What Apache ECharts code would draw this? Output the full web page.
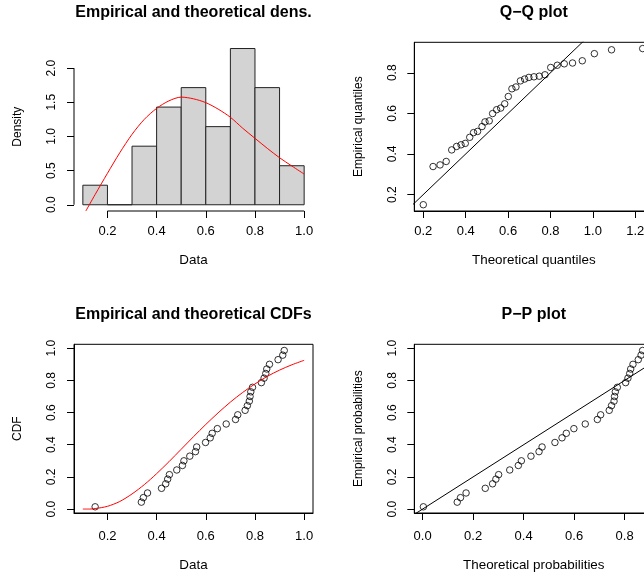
<!DOCTYPE html>
<html>
<head>
<meta charset="utf-8">
<script src="https://cdn.jsdelivr.net/npm/echarts@6/dist/echarts.min.js"></script>
<style>
html,body{margin:0;padding:0;background:#ffffff;}
#chart{width:644px;height:575px;}
</style>
</head>
<body>
<div id="chart"></div>
<script>
// ---------------- data ----------------
const sortedData = [0.150, 0.338, 0.346, 0.363, 0.420, 0.437, 0.445, 0.452, 0.482, 0.505,
  0.511, 0.535, 0.558, 0.563, 0.599, 0.618, 0.626, 0.647, 0.683, 0.721,
  0.730, 0.760, 0.769, 0.777, 0.780, 0.783, 0.790, 0.826, 0.837, 0.844,
  0.848, 0.859, 0.894, 0.913, 0.919];
const empiricalProbs = [0.014, 0.043, 0.071, 0.100, 0.129, 0.157, 0.186, 0.214, 0.243, 0.271,
  0.300, 0.329, 0.357, 0.386, 0.414, 0.443, 0.471, 0.500, 0.529, 0.557,
  0.586, 0.614, 0.643, 0.671, 0.700, 0.729, 0.757, 0.786, 0.814, 0.843,
  0.871, 0.900, 0.929, 0.957, 0.986];
const qqTheoretical = [0.200, 0.246, 0.279, 0.308, 0.334, 0.357, 0.378, 0.398, 0.419, 0.437,
  0.456, 0.477, 0.491, 0.511, 0.527, 0.546, 0.565, 0.584, 0.601, 0.618,
  0.637, 0.658, 0.678, 0.698, 0.722, 0.747, 0.774, 0.801, 0.832, 0.865,
  0.904, 0.950, 1.007, 1.088, 1.235];
const ppTheoretical = [0.003, 0.137, 0.150, 0.172, 0.248, 0.277, 0.290, 0.301, 0.345, 0.379,
  0.391, 0.429, 0.461, 0.473, 0.524, 0.552, 0.569, 0.599, 0.644, 0.692,
  0.705, 0.739, 0.748, 0.758, 0.760, 0.763, 0.771, 0.804, 0.813, 0.820,
  0.824, 0.833, 0.854, 0.865, 0.871];

const histBreaks = [0.1, 0.2, 0.3, 0.4, 0.5, 0.6, 0.7, 0.8, 0.9, 1.0];
const histDensity = [0.286, 0, 0.857, 1.429, 1.714, 1.143, 2.286, 1.714, 0.571];

const densCurveX = [0.112, 0.15, 0.2, 0.25, 0.3, 0.35, 0.4, 0.45, 0.5,
  0.55, 0.6, 0.65, 0.7, 0.75, 0.8, 0.85, 0.9, 0.95, 1.0];
const densCurveY = [-0.092, 0.15, 0.46, 0.76, 1.03, 1.25, 1.41, 1.52, 1.575,
  1.55, 1.494, 1.40, 1.28, 1.12, 0.972, 0.826, 0.688, 0.567, 0.449];

const cdfCurveX = [0.1, 0.127, 0.15, 0.2, 0.25, 0.3, 0.35, 0.4, 0.45, 0.5,
  0.55, 0.6, 0.65, 0.7, 0.75, 0.8, 0.85, 0.9, 0.95, 1.0];
const cdfCurveY = [0, 0, 0.003, 0.017, 0.047, 0.094, 0.152, 0.22, 0.294, 0.372,
  0.45, 0.526, 0.598, 0.665, 0.725, 0.778, 0.825, 0.864, 0.897, 0.925];

const histXTicks = [0.2, 0.4, 0.6, 0.8, 1.0];
const histYTicks = [0, 0.5, 1.0, 1.5, 2.0];
const qqXTicks = [0.2, 0.4, 0.6, 0.8, 1.0, 1.2];
const qqYTicks = [0.2, 0.4, 0.6, 0.8];
const cdfXTicks = [0.2, 0.4, 0.6, 0.8, 1.0];
const cdfYTicks = [0, 0.2, 0.4, 0.6, 0.8, 1.0];
const ppXTicks = [0, 0.2, 0.4, 0.6, 0.8];
const ppYTicks = [0, 0.2, 0.4, 0.6, 0.8, 1.0];

const titles = ['Empirical and theoretical dens.', 'Q\u2212Q plot', 'Empirical and theoretical CDFs', 'P\u2212P plot'];

// ---------------- layout ----------------
const FONT = 'Liberation Sans, Arial, Helvetica, sans-serif';
const ranges = {
  hist: {x: [0.064, 1.036], y: [-0.0914, 2.377]},
  qq:   {x: [0.1575, 1.285], y: [0.119, 0.950]},
  cdf:  {x: [0.064, 1.036], y: [-0.0245, 1.0245]},
  pp:   {x: [-0.033, 0.9135], y: [-0.0245, 1.0245]}
};
const grids = [
  {left: 74, top: 42.3, width: 239, height: 168.7},
  {left: 414.3, top: 42.3, width: 239, height: 168.7},
  {left: 74, top: 344.3, width: 239, height: 168.7},
  {left: 414.3, top: 344.3, width: 239, height: 168.7}
];
const boxed = [false, true, true, true];

function fmt(v) { return Number(v).toFixed(1); }

function xAxis(gi, r, ticks, name, showLine, lblMargin, nameGap) {
  return {
    type: 'value', gridIndex: gi, min: r[0], max: r[1],
    name: name, nameLocation: 'middle', nameGap: nameGap,
    nameTextStyle: {fontSize: 13.4, color: '#000', fontFamily: FONT},
    axisLine: {show: showLine, onZero: false, lineStyle: {color: '#000', width: 1}},
    axisTick: {show: true, inside: false, length: 7, customValues: ticks, lineStyle: {color: '#000', width: 1}},
    axisLabel: {show: true, customValues: ticks, formatter: fmt, margin: lblMargin, fontSize: 13, color: '#000', fontFamily: FONT},
    splitLine: {show: false}
  };
}
function yAxis(gi, r, ticks, name, showLine) {
  return {
    type: 'value', gridIndex: gi, min: r[0], max: r[1],
    name: name, nameLocation: 'middle', nameGap: 50, nameRotate: 90,
    nameTextStyle: {fontSize: 12, color: '#000', fontFamily: FONT},
    axisLine: {show: showLine, onZero: false, lineStyle: {color: '#000', width: 1}},
    axisTick: {show: true, inside: false, length: 7, customValues: ticks, lineStyle: {color: '#000', width: 1}},
    axisLabel: {show: true, customValues: ticks, formatter: fmt, rotate: 90, margin: 16, fontSize: 12, color: '#000', fontFamily: FONT},
    splitLine: {show: false}
  };
}

const titleCenters = [
  [grids[0].left + grids[0].width / 2, 5],
  [grids[1].left + grids[1].width / 2, 5],
  [grids[2].left + grids[2].width / 2, 307],
  [grids[3].left + grids[3].width / 2, 307]
];

const circleStyle = {color: 'rgba(0,0,0,0)', borderColor: '#000', borderWidth: 1};

const histData = histDensity.map((d, i) => [histBreaks[i], histBreaks[i + 1], d]);
const densLine = densCurveX.map((x, i) => [x, densCurveY[i]]);
const cdfLine = cdfCurveX.map((x, i) => [x, cdfCurveY[i]]);
const qqPts = qqTheoretical.map((x, i) => [x, sortedData[i]]);
const cdfPts = sortedData.map((x, i) => [x, empiricalProbs[i]]);
const ppPts = ppTheoretical.map((x, i) => [x, empiricalProbs[i]]);

const option = {
  animation: false,
  backgroundColor: '#ffffff',
  textStyle: {fontFamily: FONT},
  title: titles.map((t, i) => ({
    text: t, left: titleCenters[i][0], top: titleCenters[i][1], textAlign: 'center', padding: 0,
    textStyle: {fontSize: 16, fontWeight: 'bold', color: '#000', fontFamily: FONT}
  })),
  grid: grids.map((g, i) => Object.assign({
    show: boxed[i], borderColor: '#000', borderWidth: 1, backgroundColor: 'rgba(0,0,0,0)',
    containLabel: false, outerBoundsMode: 'none'
  }, g)),
  xAxis: [
    xAxis(0, ranges.hist.x, histXTicks, 'Data', false, 14, 43),
    xAxis(1, ranges.qq.x, qqXTicks, 'Theoretical quantiles', true, 14, 43),
    xAxis(2, ranges.cdf.x, cdfXTicks, 'Data', true, 17, 46),
    xAxis(3, ranges.pp.x, ppXTicks, 'Theoretical probabilities', true, 17, 46)
  ],
  yAxis: [
    yAxis(0, ranges.hist.y, histYTicks, 'Density', false),
    yAxis(1, ranges.qq.y, qqYTicks, 'Empirical quantiles', true),
    yAxis(2, ranges.cdf.y, cdfYTicks, 'CDF', true),
    yAxis(3, ranges.pp.y, ppYTicks, 'Empirical probabilities', true)
  ],
  series: [
    {
      type: 'custom', xAxisIndex: 0, yAxisIndex: 0, data: histData,
      encode: {x: [0, 1], y: 2}, clip: false, silent: true,
      renderItem: function (params, api) {
        const p0 = api.coord([api.value(0), 0]);
        const p1 = api.coord([api.value(1), api.value(2)]);
        return {
          type: 'rect',
          shape: {x: p0[0], y: p1[1], width: p1[0] - p0[0], height: p0[1] - p1[1]},
          style: {fill: '#D3D3D3', stroke: '#222', lineWidth: 1}
        };
      }
    },
    {
      type: 'line', xAxisIndex: 0, yAxisIndex: 0, data: densLine, showSymbol: false,
      smooth: 0.3, clip: true, silent: true, lineStyle: {color: '#FF0000', width: 1}
    },
    // R-style axis lines spanning the tick range for the histogram
    {
      type: 'line', xAxisIndex: 0, yAxisIndex: 0, showSymbol: false, clip: false, silent: true,
      data: [[histXTicks[0], ranges.hist.y[0]], [histXTicks[histXTicks.length - 1], ranges.hist.y[0]]],
      lineStyle: {color: '#000', width: 1}
    },
    {
      type: 'line', xAxisIndex: 0, yAxisIndex: 0, showSymbol: false, clip: false, silent: true,
      data: [[ranges.hist.x[0], histYTicks[0]], [ranges.hist.x[0], histYTicks[histYTicks.length - 1]]],
      lineStyle: {color: '#000', width: 1}
    },
    // Q-Q plot
    {
      type: 'line', xAxisIndex: 1, yAxisIndex: 1, showSymbol: false, clip: true, silent: true,
      data: [[0, 0], [2, 2]], lineStyle: {color: '#000', width: 1}
    },
    {
      type: 'scatter', xAxisIndex: 1, yAxisIndex: 1, data: qqPts, symbol: 'circle', symbolSize: 6.5,
      itemStyle: circleStyle, clip: false, silent: true
    },
    // CDF plot
    {
      type: 'scatter', xAxisIndex: 2, yAxisIndex: 2, data: cdfPts, symbol: 'circle', symbolSize: 6.5,
      itemStyle: circleStyle, silent: true
    },
    {
      type: 'line', xAxisIndex: 2, yAxisIndex: 2, data: cdfLine, showSymbol: false,
      smooth: 0.3, clip: true, silent: true, lineStyle: {color: '#FF0000', width: 1}
    },
    // P-P plot
    {
      type: 'line', xAxisIndex: 3, yAxisIndex: 3, showSymbol: false, clip: true, silent: true,
      data: [[-1, -1], [2, 2]], lineStyle: {color: '#000', width: 1}
    },
    {
      type: 'scatter', xAxisIndex: 3, yAxisIndex: 3, data: ppPts, symbol: 'circle', symbolSize: 6.5,
      itemStyle: circleStyle, silent: true
    }
  ]
};

const chart = echarts.init(document.getElementById('chart'), null, {renderer: 'canvas'});
chart.setOption(option);
</script>
</body>
</html>
